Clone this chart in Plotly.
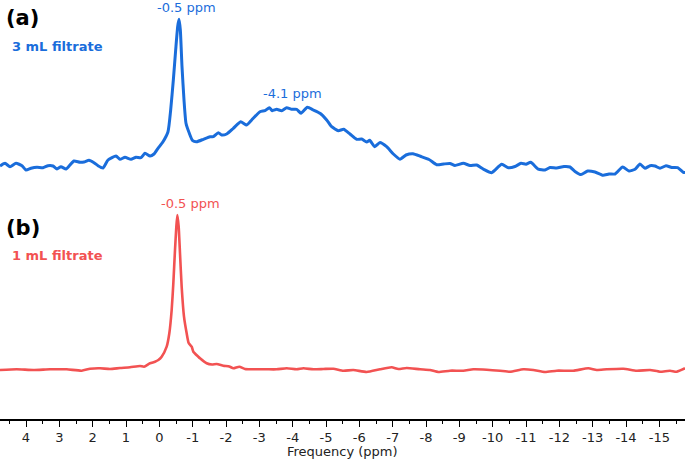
import plotly.graph_objects as go

# Spectrum (a): 3 mL filtrate  (chemical shift in ppm, intensity in arbitrary units)
ppm_a = [4.78, 4.63, 4.48, 4.30, 4.12, 4.00, 3.85, 3.67, 3.49, 3.34, 3.19, 3.07, 2.95, 2.80, 2.68,
         2.56, 2.38, 2.26, 2.11, 1.96, 1.84, 1.69, 1.54, 1.30, 1.18, 1.03, 0.85, 0.70, 0.55, 0.43,
         0.28, 0.16, 0.04, -0.11, -0.26, -0.34, -0.42, -0.49, -0.55, -0.59, -0.63, -0.68, -0.74,
         -0.80, -0.90, -1.00, -1.12, -1.32, -1.52, -1.62, -1.77, -1.87, -2.02, -2.22, -2.44, -2.62,
         -2.77, -3.02, -3.17, -3.30, -3.39, -3.52, -3.67, -3.82, -3.97, -4.12, -4.25, -4.44, -4.62,
         -4.82, -5.02, -5.17, -5.37, -5.53, -5.72, -5.92, -6.07, -6.22, -6.31, -6.46, -6.62, -6.82,
         -7.02, -7.22, -7.40, -7.61, -7.85, -8.09, -8.32, -8.53, -8.72, -8.87, -9.12, -9.32, -9.52,
         -9.73, -9.97, -10.27, -10.47, -10.67, -10.85, -11.00, -11.14, -11.37, -11.57, -11.72,
         -11.92, -12.14, -12.32, -12.47, -12.65, -12.85, -13.07, -13.31, -13.49, -13.67, -13.90,
         -14.09, -14.27, -14.42, -14.57, -14.72, -14.87, -15.02, -15.20, -15.37, -15.55, -15.72, -15.77]
int_a = [14.0, 16.7, 13.3, 16.7, 14.3, 10.0, 11.7, 12.7, 12.3, 14.3, 14.0, 11.0, 13.3, 11.0, 15.0,
         19.0, 17.7, 18.0, 19.7, 17.3, 14.3, 12.0, 20.0, 24.0, 20.7, 22.7, 20.7, 22.7, 22.3, 26.7,
         24.0, 26.0, 31.7, 38.3, 48.3, 70.0, 100.0, 130.0, 153.3, 160.7, 150.0, 113.3, 80.0,
         56.7, 46.7, 39.3, 38.3, 40.7, 43.3, 43.3, 47.3, 45.0, 46.0, 51.7, 58.3, 55.0,
         60.0, 68.3, 69.3, 72.3, 69.3, 70.7, 69.3, 72.3, 70.7, 70.7, 66.7, 72.7, 70.0,
         66.7, 60.0, 53.3, 49.3, 50.7, 46.0, 40.7, 41.0, 38.0, 39.7, 33.3, 37.5, 33.3,
         26.0, 20.8, 25.0, 26.3, 23.5, 20.5, 15.3, 16.0, 16.5, 14.5, 16.7, 14.5, 15.0,
         10.7, 7.3, 15.7, 12.3, 13.5, 16.7, 15.8, 17.7, 10.8, 10.0, 12.5,
         12.0, 13.5, 13.0, 8.5, 5.4, 9.0, 8.0, 4.7, 6.0, 6.0, 13.0,
         9.0, 10.7, 16.0, 11.7, 14.3, 14.0, 11.7, 14.3, 12.5, 12.3, 7.7, 7.5]

# Spectrum (b): 1 mL filtrate
ppm_b = [4.78, 4.28, 3.78, 3.28, 2.78, 2.33, 2.08, 1.78, 1.48, 1.18, 0.88, 0.58, 0.46, 0.28, 0.13,
         0.03, -0.07, -0.22, -0.30, -0.37, -0.42, -0.47, -0.51, -0.54, -0.58, -0.62, -0.67, -0.74,
         -0.82, -0.88, -0.97, -1.02, -1.17, -1.22, -1.42, -1.58, -1.72, -1.92, -2.10, -2.22, -2.40,
         -2.57, -2.92, -3.22, -3.52, -3.82, -4.12, -4.32, -4.62, -4.92, -5.22, -5.52, -5.82, -6.22,
         -6.62, -6.97, -7.17, -7.42, -7.82, -8.12, -8.37, -8.72, -9.12, -9.42, -9.82, -10.22,
         -10.52, -10.92, -11.22, -11.57, -11.92, -12.42, -12.87, -13.12, -13.42, -13.92, -14.32,
         -14.72, -15.02, -15.32, -15.52, -15.77]
int_b = [5.0, 5.7, 5.0, 5.7, 5.7, 4.3, 6.3, 6.7, 6.0, 7.0, 7.7, 9.0, 8.3, 11.7, 13.3,
         15.0, 18.3, 28.3, 41.7, 65.0, 91.7, 125.0, 148.3, 160.0, 148.3, 121.7, 88.3, 58.3,
         41.7, 32.0, 28.3, 23.3, 18.3, 16.7, 11.7, 10.5, 11.0, 9.3, 8.5, 6.7, 8.3,
         6.0, 5.7, 5.7, 5.7, 6.7, 5.7, 6.7, 5.7, 6.0, 6.3, 4.3, 5.0, 3.0,
         5.7, 7.7, 6.0, 7.0, 5.7, 5.0, 3.0, 4.3, 4.3, 5.7, 5.3, 4.3,
         3.3, 5.7, 5.0, 3.0, 4.3, 4.3, 6.7, 5.0, 5.7, 6.3, 4.3,
         5.0, 3.3, 4.3, 3.3, 6.7]

tick_vals = [4, 3, 2, 1, 0, -1, -2, -3, -4, -5, -6, -7, -8, -9, -10, -11, -12, -13, -14, -15]
tick_text = ["4", "3", "2", "1", "0", "-1", "-2", "-3", "-4", "-5", "-6", "-7", "-8", "-9",
             "-10", "-11", "-12", "-13", "-14", "-15"]

BLUE = "#1a6ddb"
RED = "#f25252"
offset_a = 239
offset_b = 44
FONT = "Tahoma, Verdana, DejaVu Sans, sans-serif"

fig = go.Figure()
fig.add_trace(go.Scatter(x=ppm_a, y=[v + offset_a for v in int_a], mode="lines",
                         line=dict(color=BLUE, width=3, shape="spline", smoothing=0.5), showlegend=False))
fig.add_trace(go.Scatter(x=ppm_b, y=[v + offset_b for v in int_b], mode="lines",
                         line=dict(color=RED, width=2.6, shape="spline", smoothing=0.5), showlegend=False))

ann = [
    dict(x=4.66, y=401, text="<b>(a)</b>", font=dict(size=21, color="black"), xanchor="left"),
    dict(x=4.48, y=373, text="<b>3 mL filtrate</b>", font=dict(size=13, color=BLUE), xanchor="left"),
    dict(x=-0.82, y=412, text="-0.5 ppm", font=dict(size=13, color=BLUE), xanchor="center"),
    dict(x=-4.0, y=326, text="-4.1 ppm", font=dict(size=13, color=BLUE), xanchor="center"),
    dict(x=4.66, y=191, text="<b>(b)</b>", font=dict(size=21, color="black"), xanchor="left"),
    dict(x=4.48, y=164, text="<b>1 mL filtrate</b>", font=dict(size=13, color=RED), xanchor="left"),
    dict(x=-0.92, y=216, text="-0.5 ppm", font=dict(size=13, color=RED), xanchor="center"),
]
for a in ann:
    a.update(xref="x", yref="y", showarrow=False, yanchor="middle", font_family=FONT)
ann.append(dict(x=0.5, y=-0.078, xref="paper", yref="paper", yanchor="middle", xanchor="center",
                showarrow=False, text="Frequency (ppm)",
                font=dict(family=FONT, size=13, color="#222")))

fig.update_layout(
    width=685, height=460,
    margin=dict(l=0, r=0, t=0, b=41, autoexpand=False),
    plot_bgcolor="white", paper_bgcolor="white",
    annotations=ann,
    xaxis=dict(range=[4.78, -15.77], tickvals=tick_vals, ticktext=tick_text, automargin=False,
               ticks="outside", ticklen=6, tickwidth=1.3, tickcolor="black",
               showline=True, linecolor="black", linewidth=1.5, showgrid=False, zeroline=False,
               tickfont=dict(family=FONT, size=13, color="#222"),
               minor=dict(tick0=0, dtick=0.5, ticks="outside", ticklen=3, tickcolor="black", tickwidth=1, showgrid=False)),
    yaxis=dict(range=[0, 419], visible=False, showgrid=False, zeroline=False, automargin=False),
)

post = ("document.body.style.margin='0';document.body.style.padding='0';"
        "document.body.style.overflow='hidden';"
        "var gd=document.getElementById('{plot_id}');"
        "Plotly.relayout(gd,{width:685,height:460});")

fig.write_html("out.html", config={"responsive": False, "displayModeBar": False},
               default_width="685px", default_height="460px", post_script=post)
